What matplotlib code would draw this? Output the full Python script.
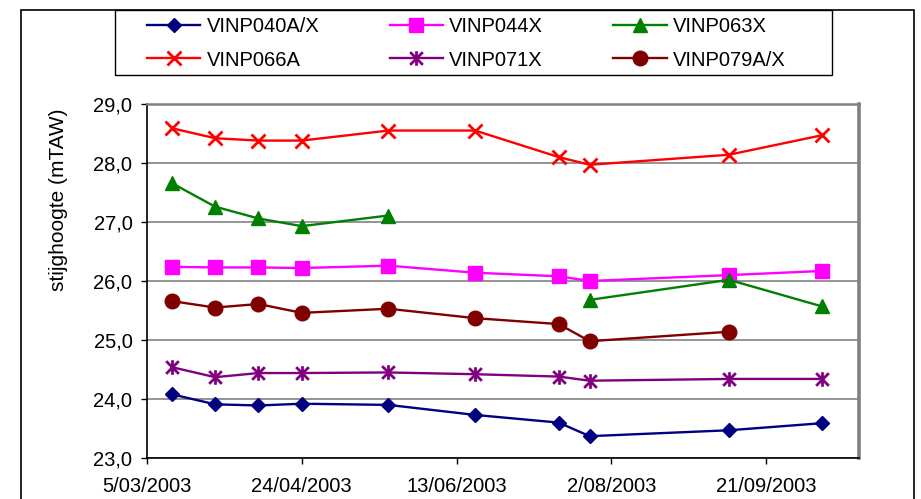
import numpy as np
import pandas as pd
import matplotlib
matplotlib.use("Agg")
import matplotlib.pyplot as plt
import matplotlib.dates as mdates
from matplotlib.path import Path
from matplotlib.patches import Rectangle
from matplotlib.ticker import FuncFormatter, MultipleLocator

plt.rcParams['font.family'] = ['Liberation Sans', 'DejaVu Sans']

# meetdata peilbuizen 2003
dates = pd.to_datetime(['2003-03-13', '2003-03-27', '2003-04-10', '2003-04-24', '2003-05-22',
                        '2003-06-19', '2003-07-16', '2003-07-26', '2003-09-09', '2003-10-09'])
nan = np.nan
vinp040 = [24.08, 23.91, 23.89, 23.92, 23.90, 23.73, 23.60, 23.37, 23.47, 23.59]
vinp044 = [26.24, 26.23, 26.23, 26.22, 26.26, 26.14, 26.08, 26.00, 26.10, 26.17]
vinp063 = [27.66, 27.26, 27.06, 26.93, 27.11, nan, nan, 25.68, 26.02, 25.57]
vinp066 = [28.59, 28.42, 28.38, 28.38, 28.55, 28.55, 28.10, 27.97, 28.14, 28.47]
vinp071 = [24.54, 24.37, 24.44, 24.44, 24.45, 24.42, 24.38, 24.31, 24.34, 24.34]
vinp079 = [25.66, 25.55, 25.61, 25.46, 25.53, 25.37, 25.27, 24.98, 25.14, nan]

# excel-achtige ster: kruis met verticale streep
star = Path([(-1, -1), (1, 1), (-1, 1), (1, -1), (0, -1.15), (0, 1.15)],
            [Path.MOVETO, Path.LINETO, Path.MOVETO, Path.LINETO, Path.MOVETO, Path.LINETO])

W, H = 921, 499
fs = 14.5
fig = plt.figure(figsize=(W / 100, H / 100), dpi=100)
ax = fig.add_axes([147 / W, 1 - 458 / H, (859 - 147) / W, (458 - 104) / H])

lw = 1.7
l1, = ax.plot(dates, vinp040, color='#000080', marker='D', ms=6.8, lw=lw, label='VINP040A/X')
l2, = ax.plot(dates, vinp044, color='#FF00FF', marker='s', ms=10, lw=lw, label='VINP044X')
l3, = ax.plot(dates, vinp063, color='#008000', marker='^', ms=10.5, lw=lw, label='VINP063X')
l4, = ax.plot(dates, vinp066, color='#FF0000', marker='x', ms=10.5, mew=2, lw=lw, label='VINP066A')
l5, = ax.plot(dates, vinp071, color='#800080', marker=star, ms=10.5, mew=2, lw=lw, label='VINP071X')
l6, = ax.plot(dates, vinp079, color='#800000', marker='o', ms=10.5, lw=lw, label='VINP079A/X')

ax.set_ylim(23, 29)
ax.yaxis.set_major_locator(MultipleLocator(1))
ax.yaxis.set_major_formatter(FuncFormatter(lambda v, p: f"{v:.1f}".replace('.', ',')))

start = pd.Timestamp('2003-03-05')
ax.set_xlim(start, pd.Timestamp('2003-10-21'))
ax.set_xticks([start + pd.Timedelta(days=50 * i) for i in range(5)])
ax.xaxis.set_major_formatter(FuncFormatter(
    lambda v, p: (lambda d: f"{d.day}/{d.month:02d}/{d.year}")(mdates.num2date(v))))

ax.grid(axis='y', color='#777777', lw=1.1)
ax.set_axisbelow(True)
for s in ['left', 'bottom']:
    ax.spines[s].set_color('black')
    ax.spines[s].set_linewidth(1.2)
ax.spines['top'].set_color('#808080')
ax.spines['top'].set_linewidth(1.8)
ax.spines['right'].set_color('#808080')
ax.spines['right'].set_linewidth(2.6)

ax.tick_params(axis='both', direction='out', length=4.5, width=1, colors='black', labelsize=fs)
ax.tick_params(axis='y', pad=6)
ax.tick_params(axis='x', pad=9)

ax.set_ylabel('stijghoogte (mTAW)', fontsize=15)
ax.yaxis.set_label_coords(-0.111, 0.729)

# kader rond grafiek en legende
fig.patches.append(Rectangle((20.5 / W, -0.05), (914 - 20.5) / W, 1.05 - 9.5 / H,
                             transform=fig.transFigure, fill=False, ec='black', lw=1.2))
fig.patches.append(Rectangle((115 / W, 1 - 75 / H), (832 - 115) / W, 65 / H,
                             transform=fig.transFigure, fill=False, ec='black', lw=1))

handles = [l1, l4, l2, l5, l3, l6]
fig.legend(handles=handles, ncol=3, loc='upper left', bbox_to_anchor=(147 / W, 1 - 17 / H),
           frameon=False, fontsize=fs, borderpad=0, borderaxespad=0,
           handlelength=2.65, handletextpad=0.3, columnspacing=3.5, labelspacing=0.72)

fig.savefig('out.png', dpi=100)
